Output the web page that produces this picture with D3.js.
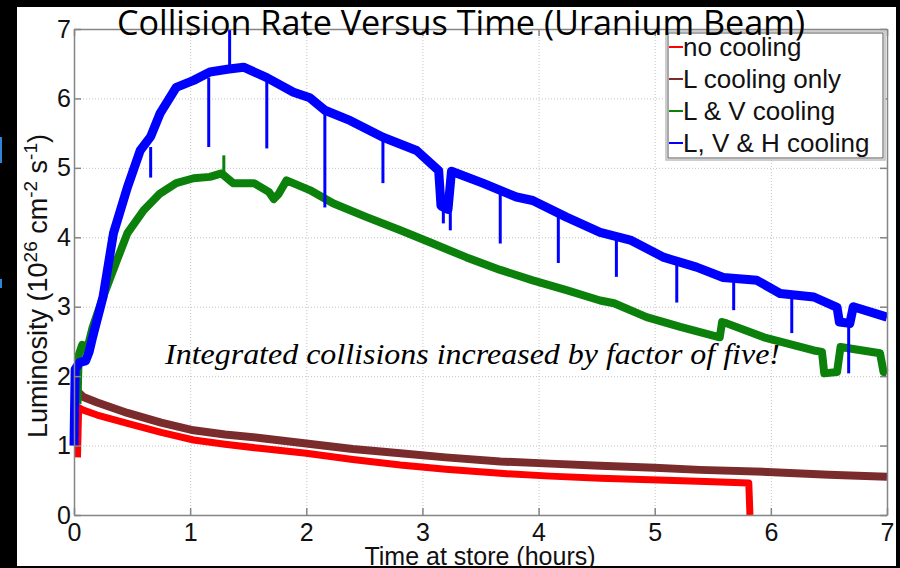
<!DOCTYPE html>
<html>
<head>
<meta charset="utf-8">
<script src="https://d3js.org/d3.v7.min.js"></script>
<style>
	body { margin: 0; background: #000; }
	svg text { font-family: "Liberation Sans", Arial, sans-serif; }
</style>
</head>
<body>
<div id="chart"></div>
<script>

// data: [hours, luminosity]
var noCooling = [
	[0.03,0.83],[0.04,1.55],[0.08,1.51],[0.2,1.44],[0.46,1.32],[0.75,1.19],[1.03,1.08],
	[1.3,1.02],[1.6,0.96],[2.0,0.89],[2.4,0.8],[2.81,0.72],[3.2,0.66],[3.67,0.60],
	[4.1,0.56],[4.53,0.53],[5.1,0.50],[5.5,0.48],[5.81,0.46],[5.82,0.0]
];
var lCoolingOnly = [
	[0.03,1.78],[0.08,1.7],[0.2,1.62],[0.46,1.47],[0.75,1.33],[1.03,1.22],[1.3,1.16],
	[1.6,1.11],[2.0,1.03],[2.4,0.95],[2.81,0.89],[3.2,0.83],[3.67,0.77],[4.1,0.74],
	[4.53,0.71],[5.0,0.68],[5.39,0.65],[5.97,0.62],[6.5,0.58],[7.0,0.55]
];
var lvCooling = [
	[0.03,1.6],[0.04,2.3],[0.07,2.45],[0.1,2.38],[0.13,2.5],[0.16,2.7],[0.25,3.14],
	[0.37,3.67],[0.46,4.06],[0.6,4.39],[0.74,4.63],[0.88,4.78],[1.03,4.85],[1.17,4.87],
	[1.27,4.92],[1.37,4.78],[1.55,4.78],[1.68,4.65],[1.72,4.55],[1.76,4.62],[1.83,4.82],
	[2.03,4.68],[2.23,4.49],[2.52,4.29],[2.81,4.1],[3.09,3.91],[3.38,3.71],[3.67,3.53],
	[3.95,3.38],[4.24,3.24],[4.53,3.09],[4.65,3.05],[4.93,2.85],[5.22,2.71],[5.56,2.56],
	[5.58,2.78],[5.62,2.76],[5.94,2.56],[6.37,2.37],[6.44,2.35],[6.46,2.04],[6.57,2.06],
	[6.6,2.42],[6.94,2.33],[6.97,2.06],[7.0,2.04]
];
var lvhCooling = [
	[0.0,1.0],[0.01,2.1],[0.05,2.2],[0.1,2.22],[0.13,2.35],[0.16,2.56],[0.25,3.14],
	[0.34,4.06],[0.46,4.72],[0.57,5.25],[0.66,5.45],[0.74,5.78],[0.88,6.16],[1.03,6.26],
	[1.17,6.38],[1.32,6.42],[1.46,6.45],[1.66,6.3],[1.89,6.09],[2.03,6.01],[2.16,5.83],
	[2.38,5.68],[2.66,5.44],[2.95,5.25],[3.14,4.96],[3.16,4.45],[3.22,4.4],[3.25,4.95],
	[3.52,4.78],[3.81,4.58],[3.95,4.53],[4.24,4.29],[4.53,4.07],[4.79,3.96],[5.08,3.71],
	[5.36,3.57],[5.59,3.42],[5.88,3.38],[6.08,3.19],[6.37,3.14],[6.57,2.99],[6.59,2.78],
	[6.68,2.76],[6.71,3.0],[7.0,2.85]
];

// narrow spikes: [hours, band value, tip value]
var lvSpikes = [[1.29,4.9,5.18]];
var lvhSpikes = [
	[0.66,5.3,4.86],[1.16,6.3,5.3],[1.34,6.45,7.0],[1.66,6.3,5.28],[2.16,5.85,4.43],
	[2.66,5.44,4.78],[3.18,4.4,4.2],[3.24,4.4,4.1],[3.67,4.7,3.91],[4.17,4.35,3.63],
	[4.67,4.0,3.43],[5.19,3.65,3.06],[5.68,3.4,2.95],[6.18,3.15,2.62],[6.67,2.78,2.04]
];

var seriesNames  = ["no cooling", "L cooling only", "L & V cooling", "L, V & H cooling"];
var seriesColors = ["#ff0000", "#7a2c2c", "#0b800b", "#0000ff"];
var xTicks = [0,1,2,3,4,5,6,7];
var yTicks = [0,1,2,3,4,5,6,7];

/*
 *	LAYOUT
 */
var W = 900, H = 568;
var margin = { top: 29, right: 13, bottom: 53, left: 74 },
	width = W - margin.left - margin.right,
	height = H - margin.top - margin.bottom;

var svg = d3.select("#chart").append("svg")
	.attr("width", W)
	.attr("height", H);

// black slide frame with white page
svg.append("rect").attr("width", W).attr("height", H).attr("fill", "#000");
svg.append("rect").attr("x", 17).attr("y", 7).attr("width", 879).attr("height", 559).attr("fill", "#fff");
svg.append("rect").attr("x", 0).attr("y", 137).attr("width", 2).attr("height", 26).attr("fill", "#2f86d8");
svg.append("rect").attr("x", 0).attr("y", 279).attr("width", 2).attr("height", 9).attr("fill", "#2f86d8");

var g = svg.append("g").attr("transform", "translate(" + margin.left + "," + margin.top + ")");

var xScale = d3.scaleLinear().domain([0, 7]).range([0, width]);
var yScale = d3.scaleLinear().domain([0, 7]).range([height, 0]);

// dotted grid
g.append("g")
	.attr("class", "grid")
	.attr("transform", "translate(0," + height + ")")
	.call(d3.axisBottom(xScale).tickValues(xTicks).tickSize(-height).tickFormat(""));
g.append("g")
	.attr("class", "grid")
	.call(d3.axisLeft(yScale).tickValues(yTicks).tickSize(-width).tickFormat(""));
g.selectAll(".grid .domain").remove();
g.selectAll(".grid line")
	.attr("stroke", "#c4c4c4")
	.attr("stroke-width", 1)
	.attr("stroke-dasharray", "1,2");

/*
 *	SERIES
 */
var line = d3.line()
	.x(function(d){ return xScale(d[0]) })
	.y(function(d){ return yScale(d[1]) });

var allSeries = [noCooling, lCoolingOnly, lvCooling, lvhCooling];
var widths = [7, 8, 8, 9];

allSeries.forEach(function(data, i){
	g.append("path")
		.datum(data)
		.attr("d", line)
		.attr("fill", "none")
		.attr("stroke", seriesColors[i])
		.attr("stroke-width", widths[i])
		.attr("stroke-linejoin", "round");
});

function draw_spikes(spikes, color){
	g.selectAll(null)
		.data(spikes).enter()
		.append("line")
			.attr("x1", function(d){ return xScale(d[0]) })
			.attr("x2", function(d){ return xScale(d[0]) })
			.attr("y1", function(d){ return yScale(d[1]) })
			.attr("y2", function(d){ return yScale(d[2]) })
			.attr("stroke", color)
			.attr("stroke-width", 3);
}
draw_spikes(lvSpikes, seriesColors[2]);
draw_spikes(lvhSpikes, seriesColors[3]);

/*
 *	AXES (matlab style: box, ticks inside)
 */
var axisColor = "#858585";
var fmt = d3.format("d");

var xAxis = g.append("g")
	.attr("transform", "translate(0," + height + ")")
	.call(d3.axisBottom(xScale).tickValues(xTicks).tickFormat(fmt).tickSize(-7).tickSizeOuter(0).tickPadding(8));
var yAxis = g.append("g")
	.call(d3.axisLeft(yScale).tickValues(yTicks).tickFormat(fmt).tickSize(-7).tickSizeOuter(0).tickPadding(3));
var topAxis = g.append("g")
	.call(d3.axisTop(xScale).tickValues(xTicks).tickSize(-7).tickSizeOuter(0).tickFormat(""));
var rightAxis = g.append("g")
	.attr("transform", "translate(" + width + ",0)")
	.call(d3.axisRight(yScale).tickValues(yTicks).tickSize(-7).tickSizeOuter(0).tickFormat(""));

[xAxis, yAxis, topAxis, rightAxis].forEach(function(a){
	a.selectAll(".domain").attr("stroke", axisColor).attr("stroke-width", 1.5);
	a.selectAll(".tick line").attr("stroke", axisColor).attr("stroke-width", 1.5);
	a.selectAll("text")
		.attr("fill", "#111")
		.style("font-size", "25px")
		.style("font-family", "'Liberation Sans', Arial, sans-serif");
});

/*
 *	LEGEND
 */
var legend = svg.append("g").attr("transform", "translate(666,31)");
legend.append("rect")
	.attr("width", 219).attr("height", 129)
	.attr("fill", "#fff").attr("stroke", "#bdbdbd").attr("stroke-width", 1.5);
legend.append("rect")
	.attr("x", 2).attr("y", 2).attr("width", 215).attr("height", 125)
	.attr("fill", "none").attr("stroke", "#555").attr("stroke-width", 1);

seriesNames.forEach(function(name, i){
	var yy = 25 + i * 32;
	legend.append("line")
		.attr("x1", 3).attr("x2", 17)
		.attr("y1", yy - 9).attr("y2", yy - 9)
		.attr("stroke", seriesColors[i]).attr("stroke-width", 2);
	legend.append("text")
		.attr("x", 17).attr("y", yy)
		.attr("fill", "#111")
		.style("font-size", "26px")
		.text(name);
});

/*
 *	LABELS
 */
svg.append("text")
	.attr("x", 117).attr("y", 35)
	.attr("textLength", 688)
	.attr("lengthAdjust", "spacingAndGlyphs")
	.attr("fill", "#000")
	.style("font-family", "'Open Sans', 'Noto Sans', sans-serif")
	.style("font-size", "34px")
	.text("Collision Rate Versus Time (Uranium Beam)");

svg.append("text")
	.attr("x", 480).attr("y", 565)
	.attr("text-anchor", "middle")
	.attr("fill", "#111")
	.style("font-size", "25px")
	.text("Time at store (hours)");

var yLabel = svg.append("text")
	.attr("transform", "translate(47,286) rotate(-90)")
	.attr("text-anchor", "middle")
	.attr("fill", "#111")
	.style("font-size", "27px");
yLabel.append("tspan").text("Luminosity (10");
yLabel.append("tspan").attr("dy", -10).style("font-size", "19px").text("26");
yLabel.append("tspan").attr("dy", 10).text(" cm");
yLabel.append("tspan").attr("dy", -10).style("font-size", "19px").text("-2");
yLabel.append("tspan").attr("dy", 10).text(" s");
yLabel.append("tspan").attr("dy", -10).style("font-size", "19px").text("-1");
yLabel.append("tspan").attr("dy", 10).text(")");

svg.append("text")
	.attr("x", 165).attr("y", 364)
	.attr("textLength", 615)
	.attr("lengthAdjust", "spacingAndGlyphs")
	.attr("fill", "#000")
	.style("font-family", "'Liberation Serif', 'DejaVu Serif', serif")
	.style("font-style", "italic")
	.style("font-size", "30px")
	.text("Integrated collisions increased by factor of five!");

</script>
</body>
</html>
